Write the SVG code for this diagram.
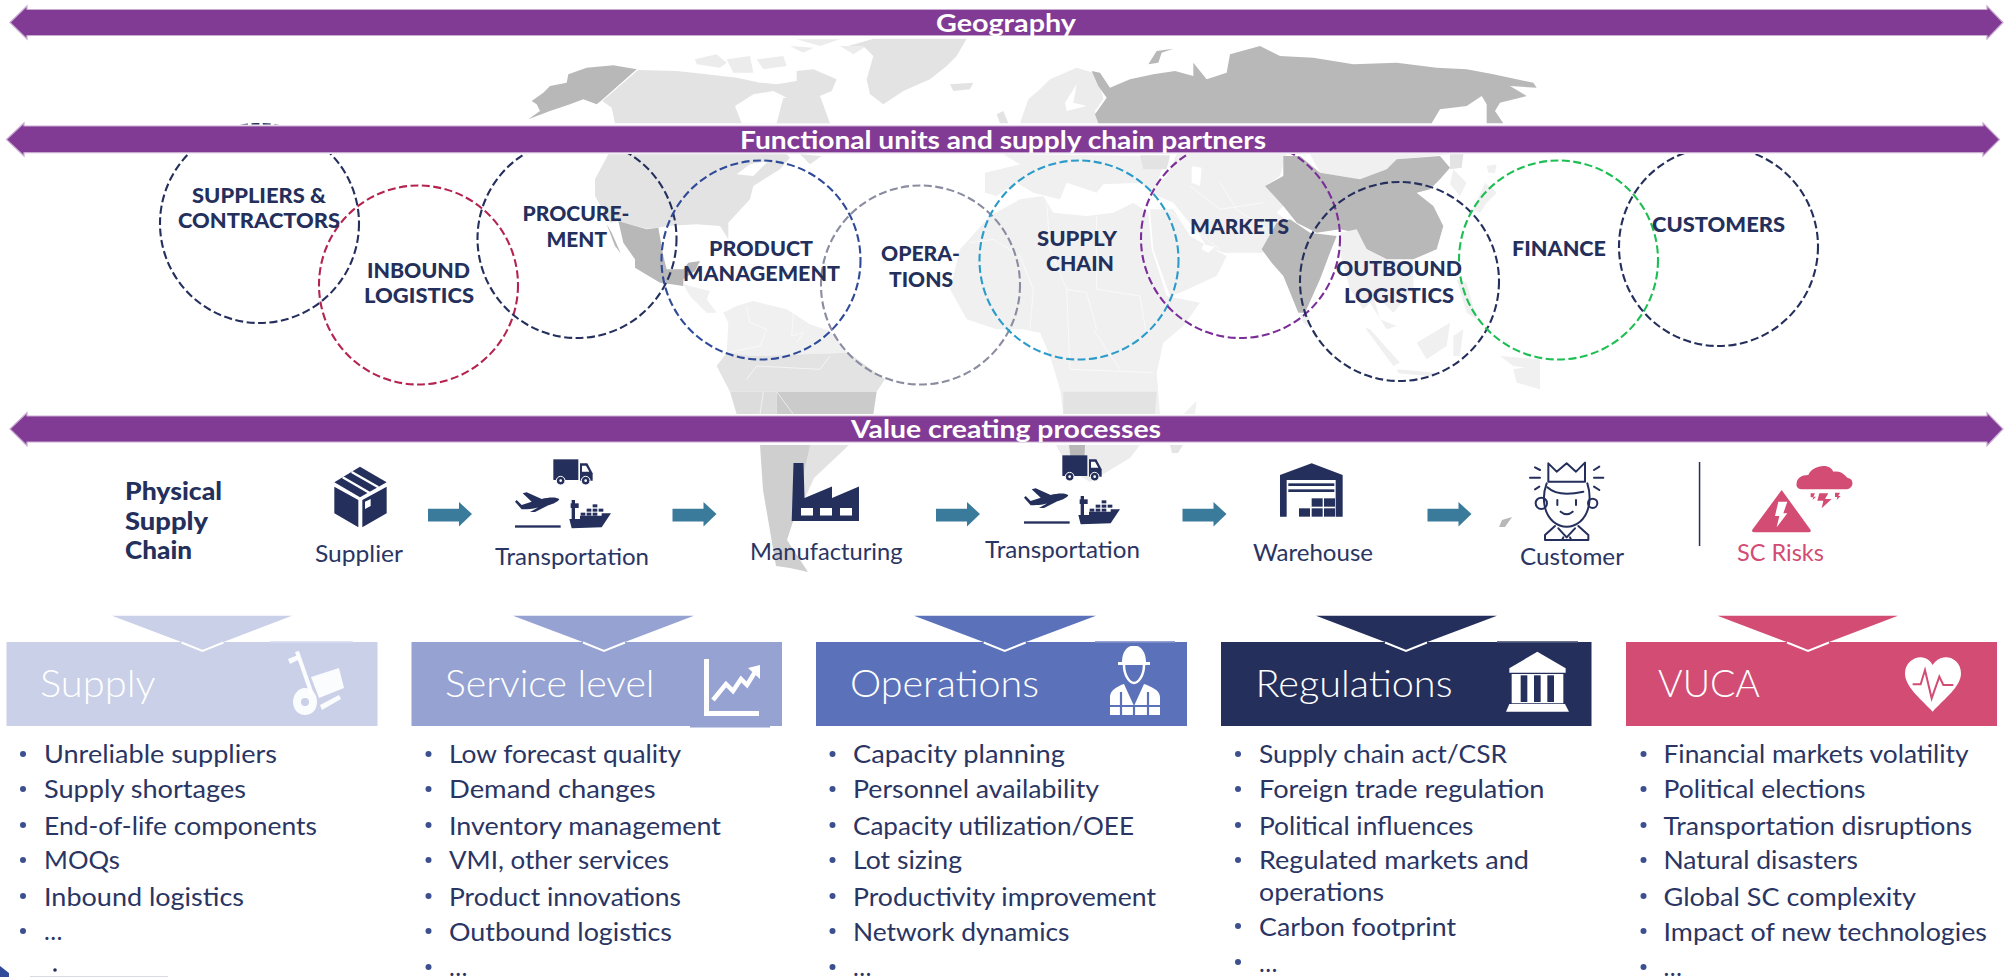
<svg xmlns="http://www.w3.org/2000/svg" xmlns:xlink="http://www.w3.org/1999/xlink" width="2011" height="977" viewBox="0 0 2011 977">
<style>
text{font-family:"Lato","Open Sans","Liberation Sans",sans-serif;transform:translateY(1px)}
.bar{fill:#823b95;stroke:#c9abd2;stroke-width:1.2}
.bt{font-size:25px;font-weight:700;fill:#fff}
.ring{fill:none;stroke-width:2.1;stroke-dasharray:8 3.5}
.cl{font-size:21.5px;font-weight:900;fill:#242f5c}
.ps{font-size:24px;font-weight:900;fill:#242f5c}
.pl{font-size:24px;font-weight:400;fill:#2a3563}
.ht{font-size:37px;font-weight:300;fill:#fff}
.it{font-size:24.500px;font-weight:400;fill:#2a3563}
.dot{fill:#3c4f8f}
.nv{fill:#242f5c}
.w{fill:#fff}
.l1{fill:#e3e3e3}.l2{fill:#f0f0f0}.l3{fill:#b8b8b8}.l4{fill:#ececec}
.br{fill:none;stroke:#fff;stroke-width:1.800}
.arrow{fill:#3a7b9c}
.v{fill:none;stroke:#fff;stroke-width:2}
</style>
<defs>
<polygon id="arr" class="arrow" points="0,6.7 31,6.7 31,0 44,12 31,24.5 31,19.5 0,19.5"/>
<g id="transport" transform="translate(300 450) scale(.33333)">
<rect class="nv" x="760" y="28" width="75" height="62"/>
<path class="nv" d="M840 40H862L878 70V92H840Z"/>
<path class="w" d="M846 47H858L868 65H846Z"/>
<circle class="nv" cx="782" cy="92" r="13" stroke="#fff" stroke-width="3"/>
<circle class="nv" cx="857" cy="92" r="13" stroke="#fff" stroke-width="3"/>
<circle class="w" cx="782" cy="92" r="4"/><circle class="w" cx="857" cy="92" r="4"/>
<path class="nv" d="M778 148C770 140 745 142 725 147L680 127L668 130L695 155L665 165L650 150L645 155L665 178C690 178 705 176 715 172L690 186L705 186L745 166C760 162 775 155 778 148Z"/>
<rect class="nv" x="645" y="226" width="137" height="7"/>
<path class="nv" d="M808 207H840V197H905V190H933L905 232L815 235Z"/>
<rect class="nv" x="815" y="150" width="10" height="57"/>
<rect class="nv" x="812" y="160" width="24" height="14"/>
<rect class="nv" x="842" y="188" width="14" height="9"/><rect class="nv" x="860" y="176" width="14" height="9"/><rect class="nv" x="860" y="188" width="14" height="9"/><rect class="nv" x="878" y="163" width="14" height="9"/><rect class="nv" x="878" y="176" width="14" height="9"/><rect class="nv" x="878" y="188" width="14" height="9"/><rect class="nv" x="896" y="176" width="14" height="9"/>
</g>
</defs>

<g id="map" transform="translate(520 36) scale(.33333)">
<path class="l3" d="M350 100L245 193L230 205L190 190L150 205L90 225L25 250L60 225L50 205L35 195L70 170L90 150L140 140L145 115L200 95L280 88Z"/>
<path class="l1" d="M354 102L470 105L560 115L650 125L720 140L770 145L830 135L830 105L880 100L950 130L935 165L900 180L930 262H285L275 215L247 195Z"/>
<path class="w" d="M645 210L700 175L760 165L800 185L790 235L770 262H665Z"/>
<path class="l1" d="M770 262L790 185L850 190L880 230L930 262Z"/>
<path class="l4" d="M525 70L590 55L620 80L600 95L530 85ZM620 70L690 60L700 110L640 110ZM710 70L790 60L800 90L730 100ZM830 10H960L900 30ZM810 30L880 35L850 50ZM960 30H1040L1000 55Z"/>
<path class="l1" d="M1040 130L1060 60L1030 30L985 30L1060 8H1340L1310 60L1280 90L1230 130L1150 165L1090 205L1050 175Z"/>
<path class="l1" d="M1290 145L1360 140L1350 160L1300 165Z"/>
<path class="l1" d="M1430 235L1450 225L1465 262H1440Z"/>
<path class="l1" d="M265 355L225 430L225 480L270 560L295 555L380 578L415 575L440 570L530 565L600 570L625 610L625 560L690 490L700 450L780 400L810 365L800 355Z"/>
<path class="w" d="M650 415L690 385L745 375L700 420Z"/>
<path class="l1" d="M840 355L905 360L870 385Z"/>
<path class="l3" d="M295 555L380 580L415 575L430 660L440 700L490 700L505 680L540 675L525 705L490 730L490 750L455 745L420 740L345 695L345 670L310 620Z"/>
<path class="l3" d="M260 565L275 590L302 652L285 630Z"/>
<path class="l2" d="M490 745L530 755L570 765L560 790L590 830L560 830L510 780Z"/>
<path class="l2" d="M610 830L650 810L700 795L800 820L870 865L930 885L985 950L700 960L620 950L625 860Z"/>
<path class="l1" d="M985 950L1095 1030L1070 1067H630L590 990L620 950L700 960Z"/>
<path fill="#dcdcdc" d="M630 1067H770V1135H650Z"/>
<path fill="#cbcbcb" d="M770 1067H1070L1060 1135H770Z"/>
<path class="br" d="M680 810L690 860L740 880L720 930L620 950M820 830L815 900L850 890L830 920M730 1067L720 1135M770 1067L820 1135M680 1030L710 990L900 1000L930 960"/>
<path class="l4" d="M1525 190L1560 160L1590 130L1670 95L1720 110L1740 150L1750 190L1725 225L1735 262H1500Z"/>
<path class="w" d="M1635 200L1670 145L1660 200L1700 210L1640 225Z"/>
<path class="l3" d="M1715 105L1740 110L1770 155L1830 130L1900 115L1965 105L2020 120L2020 80L2060 130L2090 120L2120 110L2130 55L2220 30L2280 60L2380 65L2500 85L2630 80L2750 95L2840 100L2920 115L3040 140L3050 155L2970 150L3020 180L2940 200L2925 225L2950 262H2900L2900 205L2885 180L2840 210L2760 220L2735 262H1735L1725 235L1760 185L1735 150Z"/>
<path class="l3" d="M1885 85L1910 45L1960 38L1925 50L1915 80Z"/>
<path class="l2" d="M1395 410L1395 470L1430 480L1490 440L1540 470L1620 490L1640 440L1730 470L1750 445L1860 440L1900 470L1940 360L1500 355L1450 355L1500 385Z"/>
<path class="l1" d="M1860 358H1950L1940 400H1870Z"/>
<path class="l2" d="M1410 540L1320 640L1290 760L1340 850L1430 880L1510 880L1560 890L1590 960L1620 1060L1630 1135H1920L1910 1010L1930 920L1990 870L2040 800L1940 780L1895 640L1885 530L1840 500L1780 530L1700 540L1600 530L1570 480L1500 490Z"/>
<path class="br" d="M1350 620L1420 610L1500 660L1540 760L1530 880M1580 500L1590 640L1640 760L1700 770L1730 880M1730 540L1730 760L1860 780L1880 900M1640 760L1650 1000L1900 1010M1720 880L1800 1000"/>
<path class="l1" d="M1630 1067H1910L1905 1135H1630Z"/>
<path class="l2" d="M1990 1135L2030 1095L2025 1135Z"/>
<path class="l2" d="M1970 355H2300L2280 420L2235 450L2290 510L2270 530L2310 560L2230 630L2230 650L2110 650L2060 630L2040 600L1960 500L1890 470L1940 420Z"/>
<path class="w" d="M2015 390L2045 395L2040 450L2015 440Z"/>
<path class="l2" d="M1890 520L1960 520L2010 600L2100 650L2120 660L2090 720L1980 770L1950 780L1900 640Z"/>
<path class="w" d="M2050 625L2085 632L2065 650L2045 640Z"/>
<path class="br" d="M1940 520L2100 640M2010 450L2100 520L2230 500M2100 440L2150 520L2240 580"/>
<path class="l3" d="M2310 550L2370 590L2450 600L2430 650L2400 730L2355 830L2335 830L2290 720L2255 680L2225 640L2270 560Z"/>
<path class="l2" d="M2340 835L2370 840L2365 870L2350 860Z"/>
<path class="l2" d="M2370 355H2790L2630 370L2600 400L2520 430L2400 410Z"/>
<path class="l3" d="M2235 450L2290 420L2290 360L2340 360L2400 410L2520 430L2600 400L2630 370L2760 360L2790 395L2760 430L2730 460L2690 470L2740 510L2770 570L2750 640L2680 670L2600 670L2540 640L2510 590L2460 580L2390 590L2330 560L2290 510Z"/>
<path class="l2" d="M2460 590L2510 580L2540 640L2600 670L2680 680L2680 760L2620 830L2590 800L2560 780L2580 850L2630 870L2600 880L2550 800L2530 820L2490 760L2460 650Z"/>
<path class="l1" d="M2790 355H2830L2825 395L2790 400Z"/>
<path class="l2" d="M2800 400L2840 440L2820 480L2790 445Z"/>
<path class="l2" d="M2900 390L2930 385L2925 410L2905 410ZM2895 440L2930 470L2900 500L2880 530L2860 520Z"/>
<path class="l2" d="M2535 875L2550 880L2640 980L2620 990Z"/>
<path class="l2" d="M2690 920L2790 860L2780 930L2720 970ZM2800 900L2830 880L2820 960L2800 960ZM2810 730L2840 740L2870 850L2840 830Z"/>
<path class="l2" d="M2630 1000L2750 1010L2745 1022L2635 1012Z"/>
<path class="l2" d="M2940 960L3060 970V1000L2980 990Z"/>
<path class="l2" d="M2980 1000L3060 985V1060L2990 1040Z"/>
</g>
<g id="map-south">
<path fill="#cfcfcf" d="M760 445H815L800 500L787 540L808 572L790 568L776 566L763 490Z"/>
<path fill="#e2e2e2" d="M810 445H849L814 478L795 520L800 490Z"/>
<path fill="#ececec" d="M1056 445H1140L1130 458L1090 482L1070 470Z"/>
<path fill="#b8b8b8" d="M1069 445H1085L1084 470H1072Z"/>
<path fill="#e4e4e4" d="M1170 445H1183L1178 453H1172Z"/>
<path fill="#b8b8b8" d="M1502 520L1512 517L1505 527L1499 527Z"/>
</g>

<g id="rings">
<g id="n-suppliers"><circle class="ring" cx="259.5" cy="223.5" r="99.5" stroke="#242f5c"/></g>
<g id="n-inbound"><circle class="ring" cx="418.5" cy="285" r="99.5" stroke="#b5234f"/></g>
<g id="n-procurement"><circle class="ring" cx="577" cy="238.5" r="99.5" stroke="#242f5c"/></g>
<g id="n-product"><circle class="ring" cx="761" cy="260" r="99.5" stroke="#2e4a99"/></g>
<g id="n-operations"><circle class="ring" cx="920.5" cy="285" r="99.5" stroke="#8a8ca0"/></g>
<g id="n-supplychain"><circle class="ring" cx="1079" cy="260" r="99.5" stroke="#2b9bc9"/></g>
<g id="n-markets"><circle class="ring" cx="1240.5" cy="238.5" r="99.5" stroke="#7b2d9a"/></g>
<g id="n-outbound"><circle class="ring" cx="1399.5" cy="281.5" r="99.5" stroke="#242f5c"/></g>
<g id="n-finance"><circle class="ring" cx="1558.5" cy="260" r="99.5" stroke="#1dbf53"/></g>
<g id="n-customers"><circle class="ring" cx="1718.5" cy="246.5" r="99.5" stroke="#242f5c"/></g>
</g>

<g id="white-bands">
<rect class="w" y="36" x="0" width="2011" height="2"/>
<rect class="w" y="124.5" x="0" width="2011" height="29.5"/>
<rect class="w" y="414" x="0" width="2011" height="31"/>
</g>

<g id="bar-geography"><path class="bar" d="M10 22.500L27 6V9.500H1987V6L2003 22.500L1987 39V35.500H27V39Z"/><text class="bt" x="936" y="30.500" textLength="140" lengthAdjust="spacingAndGlyphs">Geography</text></g>
<g id="bar-functional"><path class="bar" d="M6.500 139.500L24 123V126H1983V123L1999.500 139.500L1983 156V152.700H24V156Z"/><text class="bt" x="740" y="148" textLength="526" lengthAdjust="spacingAndGlyphs">Functional units and supply chain partners</text></g>
<g id="bar-value"><path class="bar" d="M10 429L27 412.700V416H1987V412.700L2003 429L1987 445.700V442H27V445.700Z"/><text class="bt" x="851" y="437" textLength="310" lengthAdjust="spacingAndGlyphs">Value creating processes</text></g>

<g id="ring-labels">
<text class="cl" x="192" y="201.500" textLength="134" lengthAdjust="spacingAndGlyphs">SUPPLIERS &amp;</text>
<text class="cl" x="178" y="226.500" textLength="162" lengthAdjust="spacingAndGlyphs">CONTRACTORS</text>
<text class="cl" x="367" y="276.500" textLength="103" lengthAdjust="spacingAndGlyphs">INBOUND</text>
<text class="cl" x="364" y="301.500" textLength="110" lengthAdjust="spacingAndGlyphs">LOGISTICS</text>
<text class="cl" x="522.500" y="220" textLength="107" lengthAdjust="spacingAndGlyphs">PROCURE-</text>
<text class="cl" x="546.500" y="246" textLength="60.500" lengthAdjust="spacingAndGlyphs">MENT</text>
<text class="cl" x="709" y="255" textLength="104" lengthAdjust="spacingAndGlyphs">PRODUCT</text>
<text class="cl" x="683" y="280" textLength="157" lengthAdjust="spacingAndGlyphs">MANAGEMENT</text>
<text class="cl" x="881" y="260" textLength="79" lengthAdjust="spacingAndGlyphs">OPERA-</text>
<text class="cl" x="889" y="286" textLength="64" lengthAdjust="spacingAndGlyphs">TIONS</text>
<text class="cl" x="1037" y="245" textLength="80" lengthAdjust="spacingAndGlyphs">SUPPLY</text>
<text class="cl" x="1046" y="270" textLength="68" lengthAdjust="spacingAndGlyphs">CHAIN</text>
<text class="cl" x="1190" y="233" textLength="99" lengthAdjust="spacingAndGlyphs">MARKETS</text>
<text class="cl" x="1336" y="275" textLength="126" lengthAdjust="spacingAndGlyphs">OUTBOUND</text>
<text class="cl" x="1344" y="301.500" textLength="110" lengthAdjust="spacingAndGlyphs">LOGISTICS</text>
<text class="cl" x="1512" y="255" textLength="94" lengthAdjust="spacingAndGlyphs">FINANCE</text>
<text class="cl" x="1652" y="231" textLength="133" lengthAdjust="spacingAndGlyphs">CUSTOMERS</text>
</g>

<g id="physical-label">
<text class="ps" x="125" y="499" textLength="97" lengthAdjust="spacingAndGlyphs">Physical</text>
<text class="ps" x="125" y="529" textLength="83" lengthAdjust="spacingAndGlyphs">Supply</text>
<text class="ps" x="125" y="558" textLength="67" lengthAdjust="spacingAndGlyphs">Chain</text>
</g>

<g id="connectors">
<use xlink:href="#arr" href="#arr" x="428" y="502"/>
<use xlink:href="#arr" href="#arr" x="672.500" y="502"/>
<use xlink:href="#arr" href="#arr" x="936" y="502"/>
<use xlink:href="#arr" href="#arr" x="1182.500" y="502"/>
<use xlink:href="#arr" href="#arr" x="1427.500" y="502"/>
</g>

<g id="node-supplier">
<g transform="translate(300 450) scale(.33333)">
<path class="nv" d="M180 50L260 97L180 142L103 97Z"/>
<path fill="none" stroke="#fff" stroke-width="7" d="M128 82L208 128M155 66L235 112"/>
<path class="nv" d="M103 110L175 150V232L103 190ZM187 150L260 110V190L187 232Z"/>
<path class="w" d="M195 155L212 147V168L195 177Z"/>
</g>
<text class="pl" x="315" y="560.500" textLength="88" lengthAdjust="spacingAndGlyphs">Supplier</text>
</g>
<g id="node-transport1">
<use xlink:href="#transport" href="#transport"/>
<text class="pl" x="495" y="564" textLength="154" lengthAdjust="spacingAndGlyphs">Transportation</text>
</g>
<g id="node-manufacturing">
<path class="nv" d="M793.500 463H803.500L804.500 498L832 486.500V498L859 486.500V521H791.700Z"/>
<rect class="w" x="801" y="508" width="12" height="7.500"/><rect class="w" x="820" y="508" width="12" height="7.500"/><rect class="w" x="840" y="508" width="12" height="7.500"/>
<text class="pl" x="750" y="559" textLength="152.500" lengthAdjust="spacingAndGlyphs">Manufacturing</text>
</g>
<g id="node-transport2">
<use xlink:href="#transport" href="#transport" x="509" y="-4"/>
<text class="pl" x="985" y="557" textLength="155" lengthAdjust="spacingAndGlyphs">Transportation</text>
</g>
<g id="node-warehouse">
<g transform="translate(1000 450) scale(.33333)">
<path class="nv" d="M840 75L935 40L1028 75V200H1007V90H860V200H840Z"/>
<rect class="nv" x="865" y="100" width="138" height="8"/><rect class="nv" x="865" y="118" width="138" height="8"/>
<rect class="nv" x="935" y="145" width="33" height="25"/><rect class="nv" x="972" y="145" width="33" height="25"/><rect class="nv" x="897" y="175" width="33" height="25"/><rect class="nv" x="935" y="175" width="33" height="25"/><rect class="nv" x="972" y="175" width="33" height="25"/>
</g>
<text class="pl" x="1253" y="559.500" textLength="120" lengthAdjust="spacingAndGlyphs">Warehouse</text>
</g>
<g id="node-customer">
<g transform="translate(1500 450) scale(.33333)" fill="none" stroke="#242f5c" stroke-width="6" stroke-linecap="round" stroke-linejoin="round">
<path d="M145 95V40L170 65L200 40L228 65L255 38V95H145Z"/>
<path d="M140 100C125 140 130 190 160 215C185 235 215 235 240 215C270 190 275 140 262 100"/>
<path d="M142 112C170 138 220 132 250 125"/>
<circle cx="124" cy="160" r="17"/><circle cx="278" cy="160" r="14"/>
<path d="M172 150V165M228 150V165M182 185Q200 200 218 185"/>
<path d="M135 270V255L165 228M265 270V255L235 228M135 270H265M175 235L200 262L225 235M190 262L186 270M210 262L214 270"/>
<path d="M90 83H120M282 83H310M105 52L120 60M282 60L298 50M105 118L118 110M282 110L298 120"/>
</g>
<text class="pl" x="1520" y="564" textLength="104" lengthAdjust="spacingAndGlyphs">Customer</text>
</g>
<rect id="divider" x="1698.800" y="462" width="1.500" height="84" fill="#242f5c"/>
<g id="node-risks">
<g transform="translate(1500 450) scale(.33333)" fill="#d24c74">
<path d="M845 120L932 240Q934 247 925 247H765Q752 247 758 238Z"/>
<path class="w" d="M835 155H862L850 190H862L830 232L838 198H825Z"/>
<path d="M890 100C890 85 905 75 925 75C935 50 985 35 1000 65C1030 60 1040 85 1045 85C1060 85 1065 115 1040 118H905C890 118 888 105 890 100Z"/>
<path d="M958 130H985L975 147H995L965 175L970 152H952ZM932 130H945L940 140H948L938 150L940 142H932ZM1005 128H1020L1015 138H1022L1010 150L1012 141H1005Z"/>
</g>
<text class="pl" x="1737" y="559.500" textLength="87" lengthAdjust="spacingAndGlyphs" style="fill:#d24c74">SC Risks</text>
</g>

<g id="col-supply">
<rect x="6.500" y="642" width="371" height="84" fill="#c9d0e8"/>
<rect x="270" y="641" width="83" height="1.500" fill="#dfe3f1"/>
<polygon fill="#c9d0e8" points="112,615.700 292,615.700 202.500,650"/>
<path class="v" d="M181.500 642.500L202.500 651L223.500 642.500"/>
<text class="ht" x="40" y="696" textLength="115.500" lengthAdjust="spacingAndGlyphs">Supply</text>
<g fill="#fff" fill-opacity=".92">
<path d="M295 652L299 651L314 694L310 695Z"/><path d="M288 659L298 655L300 659L290 664Z"/>
<path fill-rule="evenodd" d="M305 688C313 688 317 695 317 702C317 710 312 715 305 715C298 715 293 709 293 702C293 695 298 688 305 688ZM305 698A4 4 0 1 0 305 706A4 4 0 1 0 305 698Z"/>
<path d="M311 677L339 668L344 688L319 698Z"/><path d="M320 705L339 695L341 699L322 710Z"/>
</g>
<g><text x="44" y="762" textLength="233" lengthAdjust="spacingAndGlyphs" class="it">Unreliable suppliers</text>
<text x="44" y="797" textLength="202" lengthAdjust="spacingAndGlyphs" class="it">Supply shortages</text>
<text x="44" y="833.500" textLength="273" lengthAdjust="spacingAndGlyphs" class="it">End-of-life components</text>
<text x="44" y="868" textLength="76" lengthAdjust="spacingAndGlyphs" class="it">MOQs</text>
<text x="44" y="904.500" textLength="200" lengthAdjust="spacingAndGlyphs" class="it">Inbound logistics</text>
<text x="44" y="939" textLength="22" lengthAdjust="spacing" class="it">…</text></g>
<g class="dot"><circle cx="23" cy="754" r="3"/><circle cx="23" cy="789" r="3"/><circle cx="23" cy="825" r="3"/><circle cx="23" cy="860" r="3"/><circle cx="23" cy="896" r="3"/><circle cx="23" cy="931" r="3"/></g>
</g>

<g id="col-service">
<rect x="411.500" y="642" width="370.500" height="84" fill="#95a2d2"/>
<rect x="690" y="726" width="80" height="1.500" fill="#95a2d2"/>
<polygon fill="#95a2d2" points="513,615.700 694,615.700 604,650"/>
<path class="v" d="M583 642.500L604 651L625 642.500"/>
<text class="ht" x="445" y="696" textLength="209.500" lengthAdjust="spacingAndGlyphs">Service level</text>
<path fill="none" stroke="#fff" stroke-width="5" d="M706.500 659V713.500H759"/>
<path fill="none" stroke="#fff" stroke-width="4.500" d="M713 700L726 684L733 691L741 679L747 685L755 672"/>
<path class="w" d="M748 668L760 665V679Z"/>
<g>
<text x="449" y="762" textLength="232" lengthAdjust="spacingAndGlyphs" class="it">Low forecast quality</text>
<text x="449" y="797" textLength="206.500" lengthAdjust="spacingAndGlyphs" class="it">Demand changes</text>
<text x="449" y="833.500" textLength="272" lengthAdjust="spacingAndGlyphs" class="it">Inventory management</text>
<text x="449" y="868" textLength="220" lengthAdjust="spacingAndGlyphs" class="it">VMI, other services</text>
<text x="449" y="904.500" textLength="232" lengthAdjust="spacingAndGlyphs" class="it">Product innovations</text>
<text x="449" y="939.500" textLength="223" lengthAdjust="spacingAndGlyphs" class="it">Outbound logistics</text>
<text x="449" y="975" textLength="22" lengthAdjust="spacing" class="it">…</text></g>
<g class="dot"><circle cx="428.500" cy="754" r="3"/><circle cx="428.500" cy="789" r="3"/><circle cx="428.500" cy="825" r="3"/><circle cx="428.500" cy="860" r="3"/><circle cx="428.500" cy="896" r="3"/><circle cx="428.500" cy="931" r="3"/><circle cx="428.500" cy="967" r="3"/></g>
</g>

<g id="col-operations">
<rect x="816" y="642" width="371" height="84" fill="#5b72bb"/>
<rect x="1095" y="641" width="80" height="1.500" fill="#95a2d2"/>
<polygon fill="#5b72bb" points="914,615.700 1096,615.700 1004.700,650"/>
<path class="v" d="M983.700 642.500L1004.700 651L1025.700 642.500"/>
<text class="ht" x="850" y="696" textLength="189" lengthAdjust="spacingAndGlyphs">Operations</text>
<path class="w" d="M1122 662C1122 652 1127 647 1131 646H1137C1141 647 1146 652 1146 662H1150V665H1118V662Z"/>
<path fill="none" stroke="#fff" stroke-width="2.500" d="M1124 665C1124 676 1130 683 1134 683C1138 683 1144 676 1144 665"/>
<path class="w" d="M1110 715V697C1110 690 1118 686 1124 684L1134 706L1144 684C1150 686 1160 690 1160 697V715Z"/>
<path fill="none" stroke="#5b72bb" stroke-width="2.200" d="M1121 692V715M1148 692V715M1110 706H1160M1134 707V715"/>
<g>
<text x="853" y="762" textLength="212" lengthAdjust="spacingAndGlyphs" class="it">Capacity planning</text>
<text x="853" y="797" textLength="246" lengthAdjust="spacingAndGlyphs" class="it">Personnel availability</text>
<text x="853" y="833.500" textLength="281" lengthAdjust="spacingAndGlyphs" class="it">Capacity utilization/OEE</text>
<text x="853" y="868" textLength="109" lengthAdjust="spacingAndGlyphs" class="it">Lot sizing</text>
<text x="853" y="904.500" textLength="303" lengthAdjust="spacingAndGlyphs" class="it">Productivity improvement</text>
<text x="853" y="939.500" textLength="216.500" lengthAdjust="spacingAndGlyphs" class="it">Network dynamics</text>
<text x="853" y="975" textLength="22" lengthAdjust="spacing" class="it">…</text></g>
<g class="dot"><circle cx="832.500" cy="754" r="3"/><circle cx="832.500" cy="789" r="3"/><circle cx="832.500" cy="825" r="3"/><circle cx="832.500" cy="860" r="3"/><circle cx="832.500" cy="896" r="3"/><circle cx="832.500" cy="931" r="3"/><circle cx="832.500" cy="967" r="3"/></g>
</g>

<g id="col-regulations">
<rect x="1221" y="642" width="370.500" height="84" fill="#242f5c"/>
<rect x="1497" y="641" width="81" height="1.500" fill="#6b7290"/>
<polygon fill="#242f5c" points="1316,615.700 1497,615.700 1406,650"/>
<path class="v" d="M1385 642.500L1406 651L1427 642.500"/>
<text class="ht" x="1255.500" y="696" textLength="197" lengthAdjust="spacingAndGlyphs">Regulations</text>
<g transform="translate(1500 450) scale(.33333)">
<path class="w" d="M112 605L197 655V668H28V655Z"/>
<path class="w" d="M35 672H190V760H35Z"/>
<rect class="nv" x="62" y="676" width="20" height="80"/><rect class="nv" x="102" y="676" width="20" height="80"/><rect class="nv" x="142" y="676" width="20" height="80"/>
<path class="w" d="M28 762H195L207 785H18Z"/>
</g>
<g>
<text x="1259" y="762" textLength="248" lengthAdjust="spacingAndGlyphs" class="it">Supply chain act/CSR</text>
<text x="1259" y="797" textLength="285.500" lengthAdjust="spacingAndGlyphs" class="it">Foreign trade regulation</text>
<text x="1259" y="833.500" textLength="214.500" lengthAdjust="spacingAndGlyphs" class="it">Political influences</text>
<text x="1259" y="868" textLength="270" lengthAdjust="spacingAndGlyphs" class="it">Regulated markets and</text>
<text x="1259" y="900" textLength="125" lengthAdjust="spacingAndGlyphs" class="it">operations</text>
<text x="1259" y="935" textLength="197" lengthAdjust="spacingAndGlyphs" class="it">Carbon footprint</text>
<text x="1259" y="970.500" textLength="22" lengthAdjust="spacing" class="it">…</text></g>
<g class="dot"><circle cx="1238" cy="754" r="3"/><circle cx="1238" cy="789" r="3"/><circle cx="1238" cy="825" r="3"/><circle cx="1238" cy="860" r="3"/><circle cx="1238" cy="926" r="3"/><circle cx="1238" cy="962" r="3"/></g>
</g>

<g id="col-vuca">
<rect x="1626" y="642" width="371" height="84" fill="#d24c74"/>
<polygon fill="#d24c74" points="1717.500,615.700 1898,615.700 1808,650"/>
<path class="v" d="M1787 642.500L1808 651L1829 642.500"/>
<text class="ht" x="1658" y="696" textLength="102" lengthAdjust="spacingAndGlyphs">VUCA</text>
<g transform="translate(1500 450) scale(.33333)">
<path class="w" d="M1298 785C1260 745 1215 710 1215 670C1215 640 1240 622 1262 622C1280 622 1292 635 1298 645C1305 635 1318 622 1338 622C1360 622 1383 640 1383 670C1383 710 1335 745 1298 785Z"/>
<path fill="none" stroke="#d24c74" stroke-width="6" d="M1238 703H1262L1275 660L1295 745L1318 680L1330 705H1360"/>
</g>
<g>
<text x="1663.500" y="762" textLength="305" lengthAdjust="spacingAndGlyphs" class="it">Financial markets volatility</text>
<text x="1663.500" y="797" textLength="202" lengthAdjust="spacingAndGlyphs" class="it">Political elections</text>
<text x="1663.500" y="833.500" textLength="308.500" lengthAdjust="spacingAndGlyphs" class="it">Transportation disruptions</text>
<text x="1663.500" y="868" textLength="194.500" lengthAdjust="spacingAndGlyphs" class="it">Natural disasters</text>
<text x="1663.500" y="904.500" textLength="252.500" lengthAdjust="spacingAndGlyphs" class="it">Global SC complexity</text>
<text x="1663.500" y="939.500" textLength="323.500" lengthAdjust="spacingAndGlyphs" class="it">Impact of new technologies</text>
<text x="1663.500" y="975" textLength="22" lengthAdjust="spacing" class="it">…</text></g>
<g class="dot"><circle cx="1643.500" cy="754" r="3"/><circle cx="1643.500" cy="789" r="3"/><circle cx="1643.500" cy="825" r="3"/><circle cx="1643.500" cy="860" r="3"/><circle cx="1643.500" cy="896" r="3"/><circle cx="1643.500" cy="931" r="3"/><circle cx="1643.500" cy="967" r="3"/></g>
</g>

<g id="logo-fragment">
<path fill="#2e4a99" d="M0 966L9 973V977H0Z"/>
<circle cx="55" cy="970" r="1.800" fill="#242f5c"/>
<rect x="30" y="976" width="138" height="1" fill="#d8dbe4"/>
</g>
</svg>
